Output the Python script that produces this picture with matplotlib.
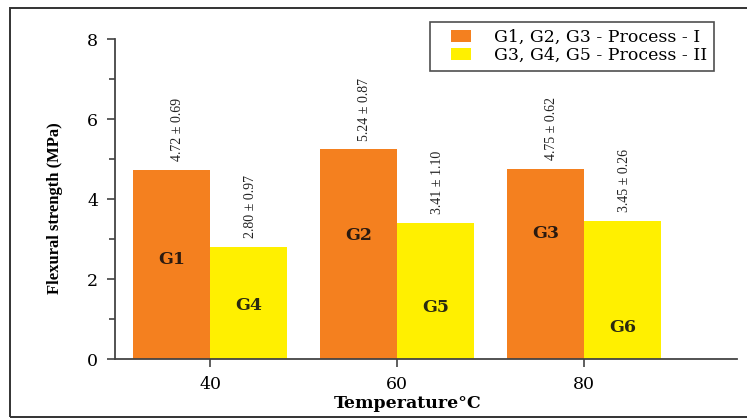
import matplotlib
matplotlib.use("Agg")
import matplotlib.pyplot as plt
from matplotlib.patches import Rectangle, Patch
from matplotlib.legend_handler import HandlerPatch
from matplotlib.ticker import MultipleLocator

# Flexural strength (MPa) of each group at each processing temperature
temperatures = ["40", "60", "80"]
process_1_mean = [4.72, 5.24, 4.75]
process_1_sd = [0.69, 0.87, 0.62]
process_2_mean = [2.80, 3.41, 3.45]
process_2_sd = [0.97, 1.10, 0.26]
process_1_groups = ["G1", "G2", "G3"]
process_2_groups = ["G4", "G5", "G6"]
legend_labels = ["G1, G2, G3 - Process - I", "G3, G4, G5 - Process - II"]

# heights at which the group names sit inside the bars
p1_name_y = [2.48, 3.1, 3.15]
p2_name_y = [1.33, 1.28, 0.8]

ORANGE = "#F4801F"
YELLOW = "#FFF000"
SERIF = "DejaVu Serif"
NARROW = "Liberation Serif"

fig = plt.figure(figsize=(7.47, 4.19), dpi=100)
W, H = 747, 419

# outer frame
fig.patches.append(Rectangle((10 / W, 2 / H), (W + 5 - 10) / W, (411 - 2) / H,
                             transform=fig.transFigure, fill=False,
                             edgecolor="#333333", linewidth=1.4))

ax = fig.add_axes([115 / W, 1 - 359 / H, (737 - 115) / W, (359 - 39) / H])

x = list(range(len(temperatures)))
width = 0.41
ax.bar([i - width / 2 for i in x], process_1_mean, width, color=ORANGE,
       label=legend_labels[0])
ax.bar([i + width / 2 for i in x], process_2_mean, width, color=YELLOW,
       label=legend_labels[1])

for i in x:
    ax.text(i - width / 2 + 0.03, process_1_mean[i] + 0.22,
            f"{process_1_mean[i]:.2f} ± {process_1_sd[i]:.2f}",
            rotation=90, ha="center", va="bottom", fontsize=10,
            family=NARROW, color="#222222")
    ax.text(i + width / 2 + 0.01, process_2_mean[i] + 0.22,
            f"{process_2_mean[i]:.2f} ± {process_2_sd[i]:.2f}",
            rotation=90, ha="center", va="bottom", fontsize=10,
            family=NARROW, color="#222222")
    ax.text(i - width / 2, p1_name_y[i], process_1_groups[i], ha="center",
            va="center", fontsize=12.5, fontweight="bold", family=SERIF,
            color="#2a1a10")
    ax.text(i + width / 2, p2_name_y[i], process_2_groups[i], ha="center",
            va="center", fontsize=12.5, fontweight="bold", family=SERIF,
            color="#2a2a10")

ax.set_xlim(-0.508, 2.818)
ax.set_ylim(0, 8)
ax.set_xticks(x)
ax.set_xticklabels(temperatures, family=SERIF, fontsize=12.5)
ax.yaxis.set_major_locator(MultipleLocator(2))
ax.yaxis.set_minor_locator(MultipleLocator(1))
for lab in ax.get_yticklabels():
    lab.set_family(SERIF)
    lab.set_fontsize(12.5)
ax.tick_params(axis="both", which="major", length=6, width=1.1,
               color="#333333", pad=6)
ax.tick_params(axis="y", which="minor", length=4, width=1.1, color="#333333")
for s in ("top", "right"):
    ax.spines[s].set_visible(False)
for s in ("left", "bottom"):
    ax.spines[s].set_color("#444444")
    ax.spines[s].set_linewidth(1.3)

ax.set_ylabel("Flexural strength (MPa)", family=NARROW, fontweight="bold",
              fontsize=12)
ax.yaxis.set_label_coords(-(115 - 55) / (737 - 115), 0.47)
ax.yaxis.label.set_va("center")
ax.set_xlabel("Temperature°C", family=SERIF, fontweight="bold", fontsize=12.5)
ax.xaxis.set_label_coords((408 - 115) / (737 - 115), -(403 - 359) / (359 - 39))
ax.xaxis.label.set_va("center")


def inset_swatch(legend, orig_handle, xdescent, ydescent, width, height,
                 fontsize):
    # square-ish swatch pushed away from the legend frame
    off = 0.8 * fontsize
    return Rectangle((-xdescent + off, -ydescent), width - off, height)


handles = [Patch(facecolor=ORANGE), Patch(facecolor=YELLOW)]
leg = fig.legend(handles, legend_labels, loc="upper left",
                 bbox_to_anchor=(430 / W, 1 - 22 / H), frameon=True,
                 fancybox=False, prop={"family": SERIF, "size": 12.5},
                 handlelength=1.96, handleheight=0.7, handletextpad=1.32,
                 borderpad=0.4, labelspacing=0.05, borderaxespad=0,
                 handler_map={Patch: HandlerPatch(patch_func=inset_swatch)})
leg.get_frame().set_edgecolor("#222222")
leg.get_frame().set_linewidth(1.2)

fig.savefig("out.png", dpi=100)
